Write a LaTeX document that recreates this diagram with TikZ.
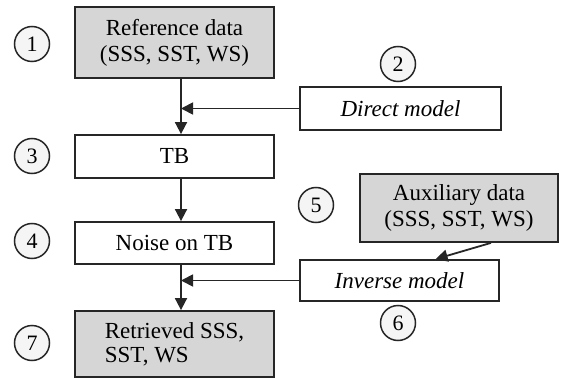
\documentclass[tikz,border=0pt]{standalone}
\usepackage{fontspec}
\setmainfont{Liberation Serif}
\usetikzlibrary{arrows.meta,calc}
\begin{document}
\begin{tikzpicture}[x=1pt,y=-1pt,
  box/.style={draw=black!85, line width=1.8pt, inner sep=0pt, align=center, font=\fontsize{23}{26}\selectfont},
  gbox/.style={box, fill=gray!32},
  num/.style={circle, draw=black!85, line width=1.5pt, fill=gray!8, minimum size=35pt, inner sep=0pt, font=\fontsize{22}{24}\selectfont},
  arr/.style={line width=1.8pt, draw=black!85, -{Triangle[length=12pt,width=12pt]}},
]
\useasboundingbox (0,0) rectangle (561,379);
% boxes
\node[gbox, minimum width=199pt, minimum height=71pt] (ref) at (174.5,42.5) {Reference data\\(SSS, SST, WS)};
\node[box, minimum width=201pt, minimum height=43pt, font=\fontsize{23}{26}\selectfont\itshape] (direct) at (400.5,108.5) {Direct model};
\node[box, minimum width=199pt, minimum height=43pt] (tb) at (174.5,156.5) {TB};
\node[gbox, minimum width=198pt, minimum height=68pt] (aux) at (459,208) {Auxiliary data\\(SSS, SST, WS)};
\node[box, minimum width=199pt, minimum height=42pt] (noise) at (174.5,243) {Noise on TB};
\node[box, minimum width=199pt, minimum height=41pt, font=\fontsize{23}{26}\selectfont\itshape] (inv) at (399.5,280.5) {Inverse model};
\node[gbox, minimum width=199pt, minimum height=66pt, align=left, font=\fontsize{23}{24}\selectfont] (ret) at (174.5,344) {Retrieved SSS,\\SST, WS};
% numbers
\node[num] (n1) at (32,44) {1};
\node[num] (n2) at (398,64) {2};
\node[num] (n3) at (32,156) {3};
\node[num] (n4) at (32,241) {4};
\node[num] (n5) at (316,205) {5};
\node[num] (n6) at (398,323) {6};
\node[num] (n7) at (32,343) {7};
% main line
\coordinate (lx) at (181,0);
\draw[arr] (ref.south -| lx) -- (tb.north -| lx);
\draw[arr] (tb.south -| lx) -- (noise.north -| lx);
\draw[arr] (noise.south -| lx) -- (ret.north -| lx);
\draw[arr] (direct.west) -- (direct.west -| lx);
\draw[arr] (inv.west) -- (inv.west -| lx);
\draw[arr] ($(aux.south west)!0.66!(aux.south east)$) -- ($(inv.north west)!0.68!(inv.north east)$);
\end{tikzpicture}
\end{document}
